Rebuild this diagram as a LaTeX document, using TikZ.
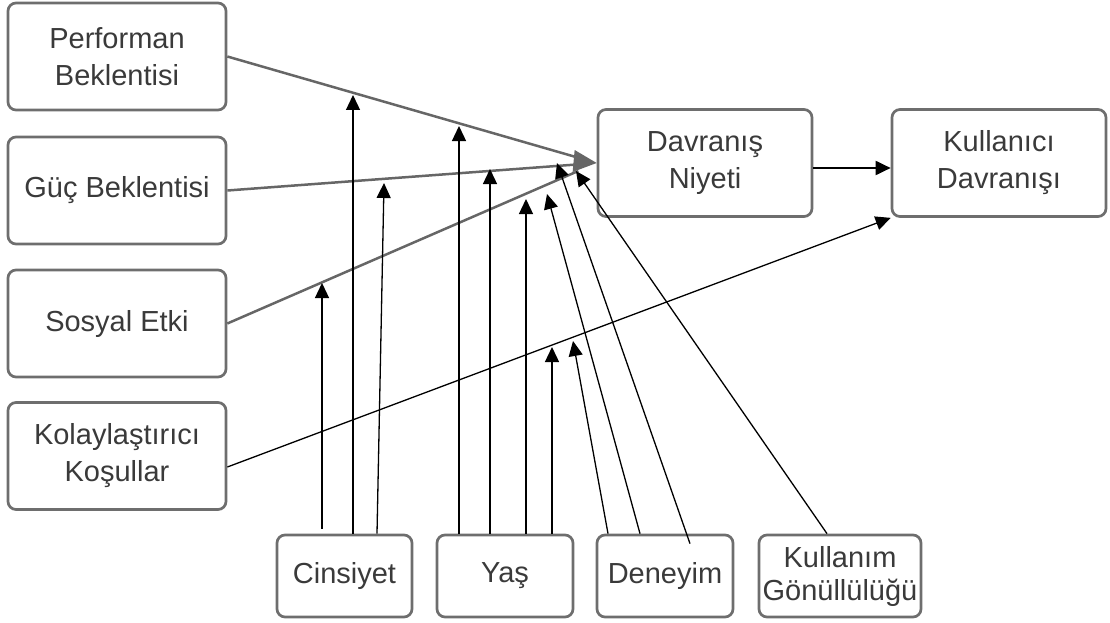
\documentclass[tikz,border=0pt]{standalone}
\usepackage{fontspec}
\setmainfont{Liberation Sans}
\usetikzlibrary{arrows.meta, calc}
\definecolor{boxgray}{HTML}{6E6E6E}
\definecolor{txtgray}{HTML}{3A3A3A}
\definecolor{linegray}{HTML}{666666}
\tikzset{
  box/.style={draw=boxgray, line width=2.7pt, rounded corners=8pt, text=txtgray, align=center, inner sep=0pt, font=\fontsize{29pt}{37pt}\selectfont},
  bigbox/.style={box, minimum width=218pt, minimum height=107pt},
  smallbox/.style={box, minimum width=136pt, minimum height=82pt},
  gline/.style={draw=linegray, line width=2.5pt},
  mod/.style={->, line width=1.3pt}
}
\begin{document}
\begin{tikzpicture}[x=1pt, y=-1pt, >={Triangle[length=15pt,width=14pt]}]
\useasboundingbox (0,0) rectangle (1110,623);
\node[bigbox](perf) at (117,56.5){Performan\\Beklentisi};
\node[bigbox](guc) at (117,190.5){Güç Beklentisi};
\node[bigbox](sos) at (117,323.5){Sosyal Etki};
\node[bigbox](kol) at (117,456){Kolaylaştırıcı\\Koşullar};
\node[bigbox, minimum width=214pt](niy) at (705,163){Davranış\\Niyeti};
\node[bigbox, minimum width=214pt](kul) at (999,163){Kullanıcı\\Davranışı};
\node[smallbox, minimum width=135pt](cins) at (344.5,576){Cinsiyet};
\node[smallbox](yas) at (505,576){Yaş};
\node[smallbox](den) at (665,576){Deneyim};
\node[smallbox, minimum width=162pt](gon) at (840,576){Kullanım\\[-4pt]Gönüllülüğü};
\draw[gline, shorten >=20pt] (perf.east) -- (niy.west);
\draw[gline, shorten >=20pt] (guc.east) -- (niy.west);
\draw[gline, shorten >=20pt] (sos.east) -- (niy.west);
\fill[linegray] (niy.west) -- ++(-22,-13) -- ++(-2,22) -- cycle;
\coordinate (cinsSos) at (322,283);
\coordinate (cinsPerf) at (353,95);
\coordinate (cinsGuc) at (384,183);
\coordinate (yasPerf) at (459,126);
\coordinate (yasGuc) at (490,169);
\coordinate (yasSos) at (526,199);
\coordinate (yasKol) at (552,347);
\coordinate (denKol) at (573,341);
\coordinate (denSos) at (547,194);
\coordinate (denGuc) at (557,163);
\coordinate (gonSos) at (576,171);
\draw[mod, shorten <=5pt] (cins.north -| cinsSos) -- (cinsSos);
\draw[mod] (cins.north -| cinsPerf) -- (cinsPerf);
\draw[mod] ([xshift=32.5pt]cins.north) -- (cinsGuc);
\draw[mod] (yas.north -| yasPerf) -- (yasPerf);
\draw[mod] (yas.north -| yasGuc) -- (yasGuc);
\draw[mod] (yas.north -| yasSos) -- (yasSos);
\draw[mod] (yas.north -| yasKol) -- (yasKol);
\draw[mod] ([xshift=-57pt]den.north) -- (denKol);
\draw[mod] ([xshift=-25pt]den.north) -- (denSos);
\draw[mod] ([xshift=25pt,yshift=-10pt]den.north) -- (denGuc);
\draw[mod] ([xshift=-13pt]gon.north) -- (gonSos);
\draw[mod] ([yshift=-11pt]kol.east) -- (kul.south west);
\draw[mod, line width=2pt] ([yshift=-5pt]niy.east) -- ([yshift=-5pt]kul.west);
\end{tikzpicture}
\end{document}
